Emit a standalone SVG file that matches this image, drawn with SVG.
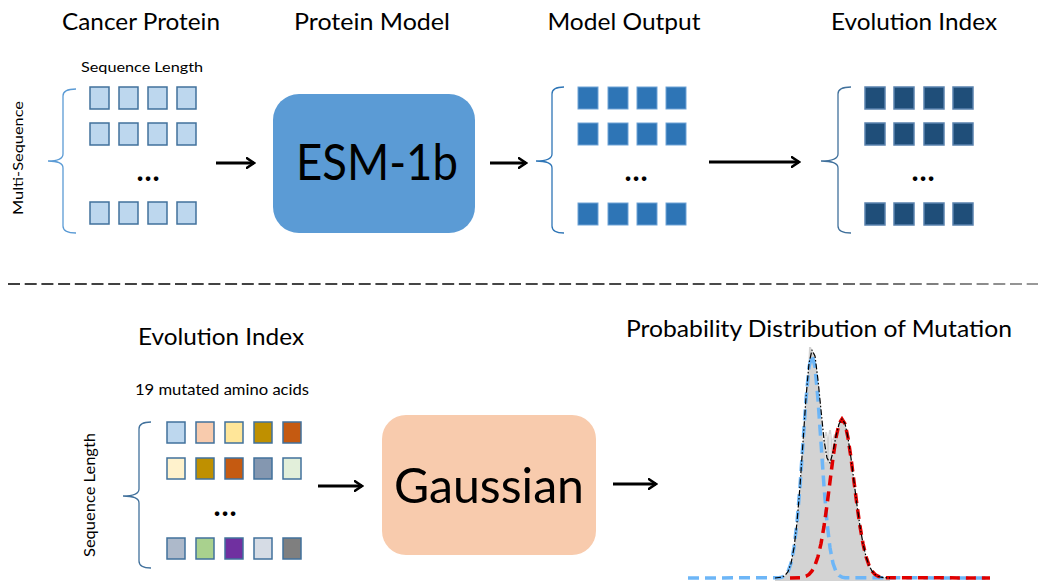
<svg xmlns="http://www.w3.org/2000/svg" width="1038" height="581" viewBox="0 0 1038 581">
<style>
text{font-family:Lato,"Liberation Sans",sans-serif;fill:#000}
.h{font-size:23px;text-anchor:middle}
.s{font-size:14px;text-anchor:middle}
.dots{font-size:30px;font-weight:bold;text-anchor:middle}
.q1{fill:#BDD7EE;stroke:#41719C;stroke-width:1.5}
.q2{fill:#2E75B6;stroke:#6FA3D6;stroke-width:1}
.q3{fill:#1F4E79;stroke:#5A82AE;stroke-width:1.5}
.qb{stroke:#41719C;stroke-width:1.5}
.br{fill:none;stroke-width:1.3}
.arr{fill:none;stroke:#000;stroke-width:3;marker-end:url(#ah)}
</style>
<defs>
<marker id="ah" viewBox="0 0 10 12" refX="8.5" refY="6" markerWidth="10" markerHeight="12" markerUnits="userSpaceOnUse" orient="auto">
<path d="M1.5,1.2 L8.5,6 L1.5,10.8" fill="none" stroke="#000" stroke-width="2.6" stroke-linecap="round"/>
</marker>
<linearGradient id="dg" gradientUnits="userSpaceOnUse" x1="0" y1="284" x2="1038" y2="284">
<stop offset="0" stop-color="#3F3F3F"/>
<stop offset="0.7" stop-color="#4A4A4A"/>
<stop offset="1" stop-color="#9A9A9A"/>
</linearGradient>
</defs>

<g id="titles">
<text class="h" x="141" y="30" textLength="158" lengthAdjust="spacingAndGlyphs">Cancer Protein</text>
<text class="h" x="372" y="30" textLength="156" lengthAdjust="spacingAndGlyphs">Protein Model</text>
<text class="h" x="624" y="30" textLength="153" lengthAdjust="spacingAndGlyphs">Model Output</text>
<text class="h" x="914" y="30" textLength="166" lengthAdjust="spacingAndGlyphs">Evolution Index</text>
</g>

<g id="cancer-protein">
<text class="s" x="142" y="72" textLength="122" lengthAdjust="spacingAndGlyphs">Sequence Length</text>
<text class="s" transform="translate(23,158) rotate(-90)" textLength="114" lengthAdjust="spacingAndGlyphs">Multi-Sequence</text>
<path class="br" stroke="#5B9BD5" d="M76,89 Q63,89 63,96 L63,154 Q63,161 48,161 Q63,161 63,168 L63,226 Q63,233 76,233"/>
<rect class="q1" x="90" y="87" width="19" height="22"/><rect class="q1" x="119" y="87" width="19" height="22"/><rect class="q1" x="148" y="87" width="19" height="22"/><rect class="q1" x="177" y="87" width="19" height="22"/>
<rect class="q1" x="90" y="123" width="19" height="22"/><rect class="q1" x="119" y="123" width="19" height="22"/><rect class="q1" x="148" y="123" width="19" height="22"/><rect class="q1" x="177" y="123" width="19" height="22"/>
<text class="dots" x="148" y="181">…</text>
<rect class="q1" x="90" y="202" width="19" height="22"/><rect class="q1" x="119" y="202" width="19" height="22"/><rect class="q1" x="148" y="202" width="19" height="22"/><rect class="q1" x="177" y="202" width="19" height="22"/>
</g>

<g id="esm">
<rect x="273" y="94" width="202" height="139" rx="26" fill="#5B9BD5"/>
<text x="377" y="180" font-size="50" text-anchor="middle" textLength="162" lengthAdjust="spacingAndGlyphs">ESM-1b</text>
</g>

<g id="model-output">
<path class="br" stroke="#2E75B6" d="M564,87 Q552,87 552,94 L552,154 Q552,161 536,161 Q552,161 552,168 L552,226 Q552,233 564,233"/>
<rect class="q2" x="578" y="87" width="20" height="22"/><rect class="q2" x="608" y="87" width="20" height="22"/><rect class="q2" x="637" y="87" width="20" height="22"/><rect class="q2" x="666" y="87" width="20" height="22"/>
<rect class="q2" x="578" y="123" width="20" height="22"/><rect class="q2" x="608" y="123" width="20" height="22"/><rect class="q2" x="637" y="123" width="20" height="22"/><rect class="q2" x="666" y="123" width="20" height="22"/>
<text class="dots" x="636" y="181">…</text>
<rect class="q2" x="578" y="203" width="20" height="22"/><rect class="q2" x="608" y="203" width="20" height="22"/><rect class="q2" x="637" y="203" width="20" height="22"/><rect class="q2" x="666" y="203" width="20" height="22"/>
</g>

<g id="evolution-index">
<path class="br" stroke="#41719C" d="M851,87 Q838,87 838,94 L838,154 Q838,161 821,161 Q838,161 838,168 L838,226 Q838,233 851,233"/>
<rect class="q3" x="865" y="87" width="20" height="22"/><rect class="q3" x="894" y="87" width="20" height="22"/><rect class="q3" x="924" y="87" width="20" height="22"/><rect class="q3" x="953" y="87" width="20" height="22"/>
<rect class="q3" x="865" y="123" width="20" height="22"/><rect class="q3" x="894" y="123" width="20" height="22"/><rect class="q3" x="924" y="123" width="20" height="22"/><rect class="q3" x="953" y="123" width="20" height="22"/>
<text class="dots" x="923" y="181">…</text>
<rect class="q3" x="865" y="203" width="20" height="22"/><rect class="q3" x="894" y="203" width="20" height="22"/><rect class="q3" x="924" y="203" width="20" height="22"/><rect class="q3" x="953" y="203" width="20" height="22"/>
</g>

<g id="separator">
<line x1="8" y1="284" x2="1038" y2="284" stroke="url(#dg)" stroke-width="2" stroke-dasharray="12 4.7"/>
</g>

<g id="bottom-evolution-index">
<text class="h" x="221" y="345" textLength="166" lengthAdjust="spacingAndGlyphs">Evolution Index</text>
<text x="222" y="395" font-size="15" text-anchor="middle" textLength="174" lengthAdjust="spacingAndGlyphs">19 mutated amino acids</text>
<text transform="translate(95,495) rotate(-90)" font-size="16" text-anchor="middle" textLength="124" lengthAdjust="spacingAndGlyphs">Sequence Length</text>
<path class="br" stroke="#41719C" d="M151,422 Q139,422 139,429 L139,489 Q139,496 123,496 Q139,496 139,503 L139,561 Q139,568 151,568"/>
<rect class="qb" fill="#BDD7EE" x="167" y="422" width="18" height="21"/><rect class="qb" fill="#F8CBAD" x="196" y="422" width="18" height="21"/><rect class="qb" fill="#FFE699" x="225" y="422" width="18" height="21"/><rect class="qb" fill="#BF9000" x="254" y="422" width="18" height="21"/><rect class="qb" fill="#C55A11" x="283" y="422" width="18" height="21"/>
<rect class="qb" fill="#FFF2CC" x="167" y="458" width="18" height="21"/><rect class="qb" fill="#BF9000" x="196" y="458" width="18" height="21"/><rect class="qb" fill="#C55A11" x="225" y="458" width="18" height="21"/><rect class="qb" fill="#8497B0" x="254" y="458" width="18" height="21"/><rect class="qb" fill="#E2EFDA" x="283" y="458" width="18" height="21"/>
<text class="dots" x="225" y="516">…</text>
<rect class="qb" fill="#ADB9CA" x="167" y="538" width="18" height="21"/><rect class="qb" fill="#A9D18E" x="196" y="538" width="18" height="21"/><rect class="qb" fill="#7030A0" x="225" y="538" width="18" height="21"/><rect class="qb" fill="#D6DCE5" x="254" y="538" width="18" height="21"/><rect class="qb" fill="#7F7F7F" x="283" y="538" width="18" height="21"/>
</g>

<g id="gaussian">
<rect x="382" y="415" width="214" height="140" rx="24" fill="#F8CBAD"/>
<text x="489" y="503" font-size="48" text-anchor="middle" textLength="190" lengthAdjust="spacingAndGlyphs">Gaussian</text>
</g>

<g id="distribution">
<text class="h" x="819" y="337" textLength="386" lengthAdjust="spacingAndGlyphs">Probability Distribution of Mutation</text>
<path fill="#D3D3D3" d="M775,581 L775,578 L782,577.1 L785,575.5 L788,571.6 L791,563.4 L794,547.8 L797,522.3 L800,486 L803,442 L806,397.6 L808,372 L809,347 L811,347 L812,350 L815,356 L818,380 L821,410 L823,440 L824,440 L825,432 L827,432 L828,438 L829,430 L831,430 L832,440 L834,434 L836,434 L839,424 L842,419 L845,423.6 L848,437.7 L851,458 L854,481.6 L857,505.2 L860,526.4 L863,543.6 L866,556.5 L869,565.3 L872,571 L875,574.4 L878,576.2 L881,577.2 L884,577.6 L890,578 L890,581 Z"/>
<g stroke="#fff" stroke-width="0.8">
<line x1="826" y1="436" x2="826" y2="462"/><line x1="830" y1="434" x2="830" y2="463"/><line x1="833" y1="440" x2="833" y2="455"/>
</g>
<path fill="none" stroke="#6DB6F7" stroke-width="3.5" stroke-dasharray="11 6" d="M688,578 L779,577.7 L782,577.1 L785,575.5 L788,571.6 L791,563.4 L794,547.8 L797,522.4 L800,486.3 L803,442.7 L806,399.4 L809,367 L812,355 L815,367 L818,399.4 L821,442.7 L824,486.3 L827,522.4 L830,547.8 L833,563.4 L836,571.6 L839,575.5 L842,577.1 L845,577.7 L990,578"/>
<path fill="none" stroke="#E00000" stroke-width="3.5" stroke-dasharray="10 6" d="M790,578 L800,577.65 L803,577.2 L806,576.2 L809,574.4 L812,571 L815,565.3 L818,556.5 L821,543.6 L824,526.4 L827,505.2 L830,481.6 L833,458 L836,437.7 L839,423.9 L842,419 L845,423.9 L848,437.7 L851,458 L854,481.6 L857,505.2 L860,526.4 L863,543.6 L866,556.5 L869,565.3 L872,571 L875,574.4 L878,576.2 L881,577.2 L884,577.65 L990,578"/>
<path fill="none" stroke="#000" stroke-width="1.2" stroke-dasharray="6 2 1.5 2" stroke-linejoin="round" d="M775,578 L782,577.1 L785,575.5 L788,571.6 L791,563.4 L794,547.8 L797,522.3 L800,486 L803,442 L806,397.6 L809,363.4 L812,350 L815,356 L818,380 L821,410 L824,440 L827,458 L830,463 L833,452 L836,436 L839,424 L842,419 L845,423.6 L848,437.7 L851,458 L854,481.6 L857,505.2 L860,526.4 L863,543.6 L866,556.5 L869,565.3 L872,571 L875,574.4 L878,576.2 L881,577.2 L884,577.6 L890,578"/>
</g>

<g id="connectors">
<path class="arr" d="M216,163 L254,163"/>
<path class="arr" d="M490,163 L526,163"/>
<path class="arr" d="M709,162 L799,162"/>
<path class="arr" d="M318,486 L362,486"/>
<path class="arr" d="M613,484 L656,484"/>
</g>
</svg>
